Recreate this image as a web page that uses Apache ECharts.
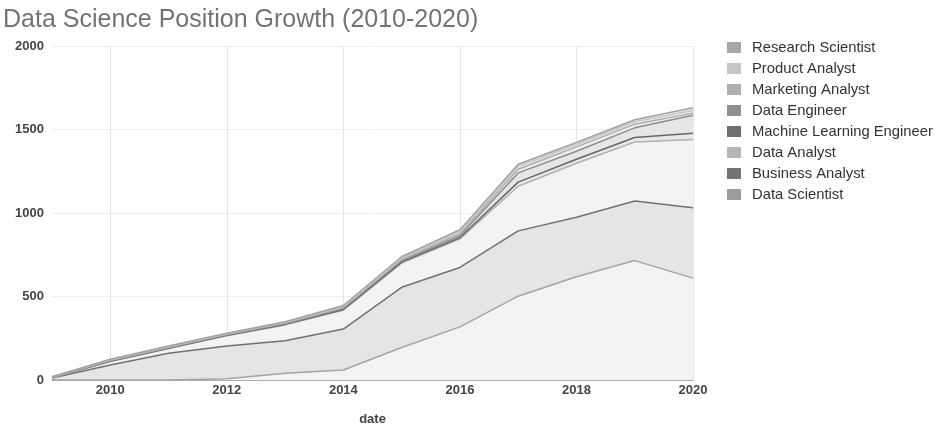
<!DOCTYPE html>
<html>
<head>
<meta charset="utf-8">
<script src="https://cdn.jsdelivr.net/npm/echarts@6/dist/echarts.min.js"></script>
<style>
html,body{margin:0;padding:0;background:#fff;}
#chart{width:936px;height:427px;}
</style>
</head>
<body>
<div id="chart"></div>
<script>
const years = ['2009','2010','2011','2012','2013','2014','2015','2016','2017','2018','2019','2020'];
const dataScientist      = [0, 0, 0, 8, 40, 60, 195, 318, 502, 618, 715, 610];
const businessAnalyst    = [12, 90, 160, 195, 195, 245, 360, 356, 391, 357, 357, 422];
const dataAnalyst        = [2, 20, 28, 62, 95, 113, 145, 171, 267, 323, 353, 408];
const mlEngineer         = [1, 2, 2, 3, 3, 4, 6, 7, 25, 24, 27, 38];
const dataEngineer       = [1, 3, 3, 3, 4, 6, 8, 12, 55, 48, 58, 107];
const marketingAnalyst   = [1, 3, 3, 3, 4, 6, 8, 12, 22, 26, 22, 13];
const productAnalyst     = [1, 3, 4, 3, 4, 6, 8, 12, 16, 14, 14, 16];
const researchScientist  = [2, 3, 4, 3, 4, 6, 8, 12, 14, 12, 12, 16];
const yTicks = [0, 500, 1000, 1500, 2000];

const FONT = 'Liberation Sans, Arial, Helvetica, sans-serif';

const seriesDefs = [
  {name:'Data Scientist', data:dataScientist, line:'#a4a4a4', area:'#f3f3f3', icon:'#9c9c9c'},
  {name:'Business Analyst', data:businessAnalyst, line:'#717171', area:'#e5e5e5', icon:'#747474'},
  {name:'Data Analyst', data:dataAnalyst, line:'#b2b2b2', area:'#f3f3f3', icon:'#b5b5b5'},
  {name:'Machine Learning Engineer', data:mlEngineer, line:'#666666', area:'#e8e8e8', icon:'#6e6e6e'},
  {name:'Data Engineer', data:dataEngineer, line:'#8c8c8c', area:'#e6e6e6', icon:'#8f8f8f'},
  {name:'Marketing Analyst', data:marketingAnalyst, line:'#ababab', area:'#eeeeee', icon:'#b0b0b0'},
  {name:'Product Analyst', data:productAnalyst, line:'#c6c6c6', area:'#f0f0f0', icon:'#c6c6c6'},
  {name:'Research Scientist', data:researchScientist, line:'#a2a2a2', area:'#e8e8e8', icon:'#a7a7a7'}
];

const chart = echarts.init(document.getElementById('chart'));
chart.setOption({
  animation:false,
  backgroundColor:'#ffffff',
  title:{
    text:'Data Science Position Growth (2010-2020)',
    left:-2, top:3,
    textStyle:{fontFamily:FONT, fontSize:25, fontWeight:'normal', color:'#737373'}
  },
  legend:{
    orient:'vertical', left:727, top:40, padding:0,
    itemWidth:14, itemHeight:11, itemGap:6,
    icon:'rect',
    data:seriesDefs.slice().reverse().map(s=>({name:s.name, itemStyle:{color:s.icon}})),
    textStyle:{fontFamily:FONT, fontSize:14.8, lineHeight:14, color:'#333333', padding:[0,0,0,6]}
  },
  grid:{left:52, right:243, top:46, bottom:47, containLabel:false, outerBoundsMode:'none'},
  xAxis:{
    type:'category', data:years, boundaryGap:false,
    name:'date', nameLocation:'middle', nameGap:33,
    nameTextStyle:{fontFamily:FONT, fontSize:13, fontWeight:'bold', color:'#444444'},
    axisLine:{show:true, lineStyle:{color:'#999999', width:1.5}},
    axisTick:{show:false},
    axisLabel:{
      interval:(i,v)=>Number(v)%2===0,
      margin:4,
      fontFamily:FONT, fontSize:13, fontWeight:'bold', color:'#444444'
    },
    splitLine:{show:true, interval:(i,v)=>Number(v)%2===0, lineStyle:{color:'#e6e6e6', width:1}}
  },
  yAxis:{
    type:'value', min:yTicks[0], max:yTicks[yTicks.length-1], interval:500,
    axisLine:{show:false}, axisTick:{show:false},
    axisLabel:{margin:8, formatter:(v)=>String(v), fontFamily:FONT, fontSize:13, fontWeight:'bold', color:'#444444'},
    splitLine:{lineStyle:{color:'#eeeeee', width:1}}
  },
  series:seriesDefs.map(s=>({
    name:s.name, type:'line', stack:'total', data:s.data,
    showSymbol:false, symbol:'none',
    lineStyle:{color:s.line, width:1.5},
    itemStyle:{color:s.icon},
    areaStyle:{color:s.area, opacity:1}
  }))
});
</script>
</body>
</html>
